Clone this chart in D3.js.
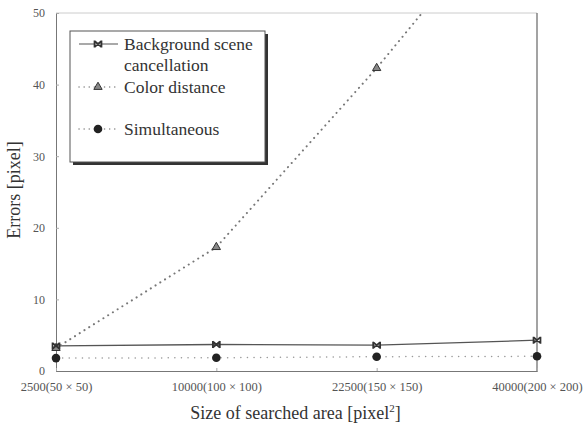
<!DOCTYPE html>
<html lang="en">
<head>
    <meta charset="utf-8">
    <title>Errors vs searched area</title>
    <script type="text/javascript" src="https://d3js.org/d3.v7.min.js"></script>
    <style type="text/css">
        body { margin: 0; background: #fff; }
        svg text { font-family: "Liberation Serif", "Times New Roman", "DejaVu Serif", serif; }
    </style>
</head>
<body>
<script type="text/javascript">

    var categories = ["2500(50 \u00d7 50)", "10000(100 \u00d7 100)", "22500(150 \u00d7 150)", "40000(200 \u00d7 200)"];
    var background = [3.5, 3.7, 3.6, 4.3];
    var colorDistance = [3.2, 17.3, 42.3, 69.5];
    var simultaneous = [1.8, 1.85, 2.0, 2.05];
    var yTicks = [0, 10, 20, 30, 40, 50];

    var width = 586, height = 429;
    var margin = {left: 56, right: 49, top: 13, bottom: 58};
    var serif = "Liberation Serif, Times New Roman, serif";

    var svg = d3.select("body").append("svg")
        .attr("width", width)
        .attr("height", height);

    var x = d3.scalePoint()
        .domain(categories)
        .range([margin.left, width - margin.right]);

    var y = d3.scaleLinear()
        .domain([0, 50])
        .range([height - margin.bottom, margin.top]);

    svg.append("defs").append("clipPath").attr("id", "clip")
        .append("rect")
        .attr("x", margin.left - 10).attr("y", margin.top)
        .attr("width", width - margin.left - margin.right + 20)
        .attr("height", height - margin.top - margin.bottom + 10);

    // frame: top and right borders
    svg.append("line")
        .attr("x1", margin.left).attr("x2", width - margin.right)
        .attr("y1", margin.top).attr("y2", margin.top)
        .attr("stroke", "#ccc").attr("stroke-width", 1);
    svg.append("line")
        .attr("x1", width - margin.right).attr("x2", width - margin.right)
        .attr("y1", margin.top).attr("y2", height - margin.bottom)
        .attr("stroke", "#666").attr("stroke-width", 1.2);

    // y axis
    var yAxis = svg.append("g")
        .attr("transform", "translate(" + margin.left + ",0)")
        .call(d3.axisLeft(y).tickValues(yTicks).tickSize(-3).tickPadding(11));
    yAxis.attr("font-family", serif).attr("font-size", 12);
    yAxis.select(".domain").attr("stroke", "#777");
    yAxis.selectAll(".tick line").attr("stroke", "#aaa");
    yAxis.selectAll("text").attr("fill", "#555");

    // x axis
    var xAxis = svg.append("g")
        .attr("transform", "translate(0," + (height - margin.bottom) + ")")
        .call(d3.axisBottom(x).tickSize(-3).tickPadding(11));
    xAxis.attr("font-family", serif).attr("font-size", 12.5);
    xAxis.select(".domain").attr("stroke", "#777");
    xAxis.selectAll(".tick line").attr("stroke", "#aaa");
    xAxis.selectAll("text").attr("fill", "#555");

    // axis titles
    var xt = svg.append("text")
        .attr("x", (margin.left + width - margin.right) / 2 - 1)
        .attr("y", 419)
        .attr("text-anchor", "middle")
        .attr("fill", "#333")
        .attr("font-family", serif)
        .attr("font-size", 18);
    xt.append("tspan").text("Size of searched area [pixel");
    xt.append("tspan").attr("dy", -7).attr("font-size", 11).text("2");
    xt.append("tspan").attr("dy", 7).text("]");

    svg.append("text")
        .attr("transform", "translate(20," + 190 + ") rotate(-90)")
        .attr("text-anchor", "middle")
        .attr("fill", "#333")
        .attr("font-family", serif)
        .attr("font-size", 18)
        .text("Errors [pixel]");

    var line = d3.line()
        .x(function(d, i) { return x(categories[i]); })
        .y(function(d) { return y(d); });

    var plot = svg.append("g").attr("clip-path", "url(#clip)");

    plot.append("path").datum(background)
        .attr("d", line)
        .attr("fill", "none").attr("stroke", "#555").attr("stroke-width", 1.3);

    plot.append("path").datum(colorDistance)
        .attr("d", line)
        .attr("fill", "none").attr("stroke", "#777").attr("stroke-width", 2)
        .attr("stroke-linecap", "round")
        .attr("stroke-dasharray", "0.1,5.5");

    plot.append("path").datum(simultaneous)
        .attr("d", line)
        .attr("fill", "none").attr("stroke", "#999").attr("stroke-width", 1.5)
        .attr("stroke-linecap", "round")
        .attr("stroke-dasharray", "0.1,6.5");

    function crossMarker(g, cx, cy) {
        g.append("path")
            .attr("d", "M" + (cx - 3.5) + "," + (cy - 3) + "L" + (cx + 3.5) + "," + (cy + 3) +
                "M" + (cx - 3.5) + "," + (cy + 3) + "L" + (cx + 3.5) + "," + (cy - 3) +
                "M" + (cx - 3.5) + "," + (cy - 3.5) + "L" + (cx - 3.5) + "," + (cy + 3.5) +
                "M" + (cx + 3.5) + "," + (cy - 3.5) + "L" + (cx + 3.5) + "," + (cy + 3.5))
            .attr("stroke", "#333").attr("stroke-width", 1.7).attr("fill", "none");
    }
    function triMarker(g, cx, cy) {
        g.append("path")
            .attr("d", d3.symbol().type(d3.symbolTriangle).size(30)())
            .attr("transform", "translate(" + cx + "," + cy + ")")
            .attr("fill", "#888").attr("stroke", "#333").attr("stroke-width", 1);
    }
    function dotMarker(g, cx, cy) {
        g.append("circle")
            .attr("cx", cx).attr("cy", cy).attr("r", 4.3)
            .attr("fill", "#222");
    }

    var marks = svg.append("g").attr("clip-path", "url(#clip)");
    colorDistance.forEach(function(d, i) {
        if (d <= 50) triMarker(marks, x(categories[i]), y(d));
    });
    background.forEach(function(d, i) { crossMarker(marks, x(categories[i]), y(d)); });
    simultaneous.forEach(function(d, i) { dotMarker(marks, x(categories[i]), y(d)); });

    // legend
    var lg = svg.append("g");
    var lx = 70, ly = 31, lw = 195, lh = 131;
    lg.append("rect")
        .attr("x", lx + 3).attr("y", ly + 3).attr("width", lw).attr("height", lh)
        .attr("fill", "#333");
    lg.append("rect")
        .attr("x", lx).attr("y", ly).attr("width", lw).attr("height", lh)
        .attr("fill", "#fff").attr("stroke", "#555").attr("stroke-width", 1);

    var legendItems = [
        {lines: ["Background scene", "cancellation"], y: 44, type: "cross"},
        {lines: ["Color distance"], y: 87, type: "tri"},
        {lines: ["Simultaneous"], y: 129, type: "dot"}
    ];
    legendItems.forEach(function(item) {
        var sw = lg.append("line")
            .attr("x1", 79).attr("x2", 118)
            .attr("y1", item.y).attr("y2", item.y);
        if (item.type === "cross") {
            sw.attr("stroke", "#555").attr("stroke-width", 1.2);
            crossMarker(lg, 98, item.y);
        } else if (item.type === "tri") {
            sw.attr("stroke", "#888").attr("stroke-width", 1.5)
                .attr("stroke-linecap", "round").attr("stroke-dasharray", "0.1,5");
            triMarker(lg, 98, item.y);
        } else {
            sw.attr("stroke", "#888").attr("stroke-width", 1.5)
                .attr("stroke-linecap", "round").attr("stroke-dasharray", "0.1,5");
            dotMarker(lg, 98, item.y);
        }
        var t = lg.append("text")
            .attr("x", 124).attr("y", item.y + 6)
            .attr("fill", "#333")
            .attr("font-family", serif)
            .attr("font-size", 17.5);
        item.lines.forEach(function(s, k) {
            t.append("tspan").attr("x", 124).attr("dy", k === 0 ? 0 : 21).text(s);
        });
    });

</script>
</body>
</html>
